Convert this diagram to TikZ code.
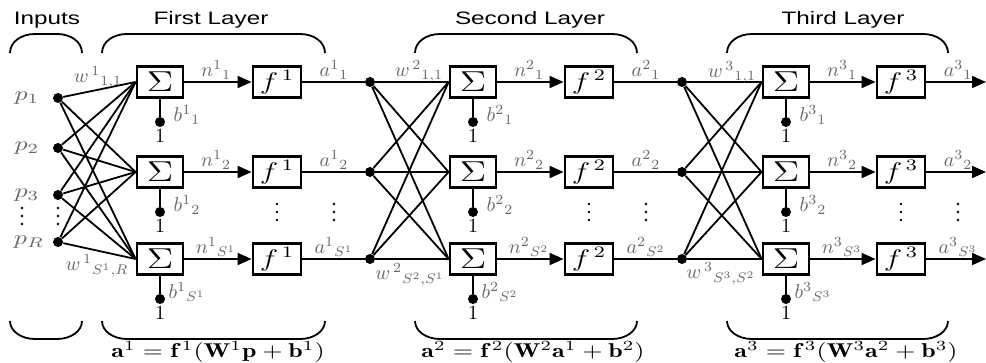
\documentclass[tikz,border=0pt]{standalone}
\usepackage{amsmath}
\usepackage{amssymb}
\usepackage{graphicx}
\usepackage{fontspec}
\newfontfamily\titlefont[FakeStretch=1.35]{Liberation Sans}
\usetikzlibrary{arrows.meta}
\newcommand{\wide}[1]{\scalebox{1.3}[1]{#1}}

\begin{document}
\begin{tikzpicture}[x=0.5pt,y=-0.5pt,
    sumbox/.style={draw, line width=1.4pt, minimum width=23pt, minimum height=15.5pt, inner sep=0pt},
    fbox/.style={draw, line width=1.4pt, minimum width=24pt, minimum height=15.5pt, inner sep=0pt},
    dot/.style={circle, fill, inner sep=0pt, minimum size=5pt},
    wire/.style={line width=0.9pt},
    tip/.style={-{Triangle[length=7pt,width=6pt]}},
    lbl/.style={text=black!60, font=\normalsize, inner sep=1pt},
    title/.style={font=\titlefont\fontsize{9}{10}\selectfont},
    brace/.style={line width=0.9pt}]
  \useasboundingbox (0,0) rectangle (986,363);

  % Titles
  \node[title] (tin) at (47,20) {Inputs};
  \node[title] (t1) at (211,20) {First Layer};
  \node[title] (t2) at (530,20) {Second Layer};
  \node[title] (t3) at (843,20) {Third Layer};

  % Braces, top and bottom
  \foreach \xa/\xb in {10/82, 102/325, 415/637, 727/948} {
    \draw[brace] (\xa,53) .. controls (\xa,42) and (\xa+11,34) .. (\xa+25,34) -- (\xb-25,34) .. controls (\xb-11,34) and (\xb,42) .. (\xb,53);
    \draw[brace] (\xa,321) .. controls (\xa,331) and (\xa+11,339) .. (\xa+25,339) -- (\xb-25,339) .. controls (\xb-11,339) and (\xb,331) .. (\xb,321);
  }

  % Inputs
  \node[dot] (p1) at (58,98) {};
  \node[dot] (p2) at (58,148) {};
  \node[dot] (p3) at (58,195) {};
  \node[dot] (pR) at (58,242) {};
  \node[lbl] (lp1) at (27,98) {\wide{$p_1$}};
  \node[lbl] (lp2) at (27,148) {\wide{$p_2$}};
  \node[lbl] (lp3) at (27,195) {\wide{$p_3$}};
  \node[lbl] (lpR) at (29,242) {\wide{$p_R$}};

  % Vertical ellipses
  \foreach \x/\y in {22/208, 58/208, 277/204, 334/204, 589/204, 646/204, 901/204, 958/204} {
    \foreach \d in {0,8,16} { \fill (\x,\y+\d) circle (0.65pt); }
  }

  % Sum and transfer boxes of the three layers
  \foreach \L/\xs/\xf in {1/160/277, 2/473/589, 3/786/901} {
    \foreach \r/\y/\k in {1/82/1, 2/172/2, 3/259/S^\L} {
      \node[sumbox] (s\L\r) at (\xs,\y) {\wide{\fontsize{15}{15}\selectfont$\Sigma$}};
      \node[fbox] (f\L\r) at (\xf,\y) {\wide{\large$f^{\,\L}$}};
      \node[dot] (b\L\r) at (\xs,\y+40) {};
      \node (one\L\r) at (\xs,\y+54) {1};
      \node[lbl] (lb\L\r) at (\xs+27,\y+33) {$b^{\L}{}_{\k}$};
      \node[lbl] (ln\L\r) at (\xs+56,\y-12) {$n^{\L}{}_{\k}$};
      \node[lbl] (la\L\r) at (\xf+57,\y-12) {$a^{\L}{}_{\k}$};
      \draw[wire] (s\L\r) -- (b\L\r);
      \draw[wire, tip] (s\L\r) -- (f\L\r);
    }
  }

  % Input weights
  \foreach \i in {p1,p2,p3,pR} {
    \foreach \r in {1,2,3} { \draw[wire] (\i) -- (s1\r.west); }
  }

  % Hidden connections
  \foreach \L/\P/\xd in {2/1/370, 3/2/682} {
    \foreach \r/\y in {1/82, 2/172, 3/259} {
      \node[dot] (d\L\r) at (\xd,\y) {};
      \draw[wire] (f\P\r) -- (d\L\r);
    }
    \foreach \i in {1,2,3} {
      \foreach \r in {1,2,3} { \draw[wire] (d\L\i) -- (s\L\r.west); }
    }
  }

  % Outputs
  \foreach \r/\y in {1/82, 2/172, 3/259} {
    \coordinate (out\r) at (986,\y);
    \draw[wire, tip] (f3\r) -- (out\r);
  }

  % Weight labels
  \node[lbl] (w1a) at (98,77) {$w^{\,1}{}_{1,1}$};
  \node[lbl] (w1b) at (97,266) {$w^{\,1}{}_{S^1,R}$};
  \node[lbl] (w2a) at (419,71) {$w^{\,2}{}_{1,1}$};
  \node[lbl] (w2b) at (410,275) {$w^{\,2}{}_{S^2,S^1}$};
  \node[lbl] (w3a) at (732,72) {$w^{\,3}{}_{1,1}$};
  \node[lbl] (w3b) at (721,274) {$w^{\,3}{}_{S^3,S^2}$};

  % Layer equations
  \node (eq1) at (218,352) {\wide{$\mathbf{a}^1=\mathbf{f}^{\,1}(\mathbf{W}^1\mathbf{p}+\mathbf{b}^1)$}};
  \node (eq2) at (533,352) {\wide{$\mathbf{a}^2=\mathbf{f}^{\,2}(\mathbf{W}^2\mathbf{a}^1+\mathbf{b}^2)$}};
  \node (eq3) at (846,352) {\wide{$\mathbf{a}^3=\mathbf{f}^{\,3}(\mathbf{W}^3\mathbf{a}^2+\mathbf{b}^3)$}};
\end{tikzpicture}
\end{document}
